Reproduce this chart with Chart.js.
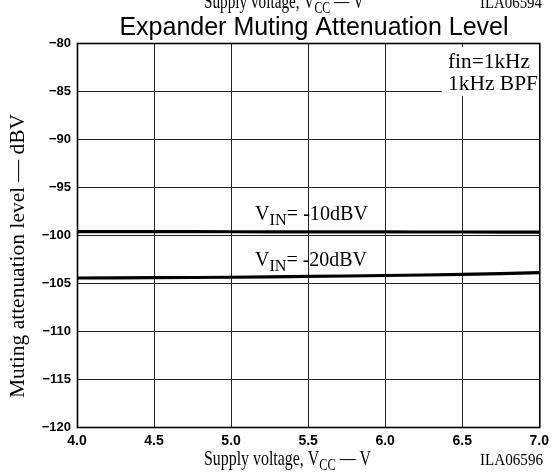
<!DOCTYPE html>
<html>
<head>
<meta charset="utf-8">
<script src="https://cdn.jsdelivr.net/npm/chart.js@4.4.1/dist/chart.umd.min.js"></script>
<style>
  html, body { margin: 0; padding: 0; background: #fff; }
  #wrap { width: 555px; height: 472px; position: relative; }
</style>
</head>
<body>
<div id="wrap"><canvas id="c" width="555" height="472"></canvas></div>
<script>
// ---- data ----
const supplyVoltage = [4.0, 4.5, 5.0, 5.5, 6.0, 6.5, 7.0];
const level_m10dBV = [-99.64, -99.65, -99.66, -99.67, -99.68, -99.69, -99.70];
const level_m20dBV = [-104.48, -104.45, -104.40, -104.32, -104.22, -104.10, -103.92];
const xTickValues = [4.0, 4.5, 5.0, 5.5, 6.0, 6.5, 7.0];
const yTickValues = [-80, -85, -90, -95, -100, -105, -110, -115, -120];
const chartTitle = 'Expander Muting Attenuation Level';
const xTitle = [['Supply voltage, V', 0], ['CC', 1], [' \u2014 V', 0]];
const yTitle = 'Muting attenuation level \u2014 dBV';
const figCode = 'ILA06596';
const prevFigCode = 'ILA06594';
const condLines = ['fin=1kHz', '1kHz BPF'];
const seriesLabels = [
  [['V', 0], ['IN', 1], ['= -10dBV', 0]],
  [['V', 0], ['IN', 1], ['= -20dBV', 0]]
];

const SERIF = '"Liberation Serif", "Times New Roman", serif';
const SANS = '"Liberation Sans", Arial, sans-serif';

function richWidth(ctx, segs, size, subSize) {
  let w = 0;
  for (const [t, sub] of segs) {
    ctx.font = (sub ? subSize : size) + 'px ' + SERIF;
    w += ctx.measureText(t).width;
  }
  return w;
}
// draw segments (with subscripts) starting at x (left), baseline y, scaled to target width
function drawRich(ctx, segs, x, y, size, subSize, subDy, targetW, sy) {
  const w = richWidth(ctx, segs, size, subSize);
  const sx = targetW ? targetW / w : 1;
  ctx.save();
  ctx.translate(x, y);
  ctx.scale(sx, sy || 1);
  ctx.textAlign = 'left';
  ctx.textBaseline = 'alphabetic';
  let cx = 0;
  for (const [t, sub] of segs) {
    ctx.font = (sub ? subSize : size) + 'px ' + SERIF;
    ctx.fillText(t, cx, sub ? subDy : 0);
    cx += ctx.measureText(t).width;
  }
  ctx.restore();
}

const decor = {
  id: 'decor',
  beforeDatasetsDraw(chart) {
    const ctx = chart.ctx;
    // white box behind the test-condition note
    ctx.save();
    ctx.fillStyle = '#fff';
    ctx.fillRect(442, 47, 99, 49);
    ctx.restore();
  },
  afterDraw(chart) {
    const ctx = chart.ctx;
    const a = chart.chartArea;
    ctx.save();
    ctx.fillStyle = '#000';
    // plot frame
    ctx.strokeStyle = '#000';
    ctx.lineWidth = 1.6;
    ctx.strokeRect(a.left + 0.5, a.top + 0.5, a.right - a.left, a.bottom - a.top);

    // title
    ctx.font = '25px ' + SANS;
    ctx.textAlign = 'center';
    ctx.textBaseline = 'alphabetic';
    ctx.fillText(chartTitle, 314, 35);

    // cut-off caption of previous figure at the very top
    drawRich(ctx, xTitle, 204, 8, 22, 17, 5, 160);
    drawRich(ctx, [[prevFigCode, 0]], 480, 8, 16, 16, 0, 62);

    // x axis title + figure code
    drawRich(ctx, xTitle, 204, 465, 22, 17, 5, 167);
    drawRich(ctx, [[figCode, 0]], 480, 465, 16, 16, 0, 63);

    // y axis title (rotated)
    ctx.save();
    ctx.translate(24, 256);
    ctx.rotate(-Math.PI / 2);
    ctx.font = '22px ' + SERIF;
    const yw = ctx.measureText(yTitle).width;
    ctx.scale(284 / yw, 1);
    ctx.textAlign = 'center';
    ctx.fillText(yTitle, 0, 0);
    ctx.restore();

    // condition note
    drawRich(ctx, [[condLines[0], 0]], 448, 68, 21, 21, 0, 82);
    drawRich(ctx, [[condLines[1], 0]], 448, 90, 21, 21, 0, 90);

    // series labels
    drawRich(ctx, seriesLabels[0], 255, 220, 21, 17, 5, 113);
    drawRich(ctx, seriesLabels[1], 255, 266, 21, 17, 5, 112);
    ctx.restore();
  }
};

new Chart(document.getElementById('c'), {
  type: 'line',
  data: {
    datasets: [
      {
        label: 'VIN=-10dBV',
        data: supplyVoltage.map((v, i) => ({ x: v, y: level_m10dBV[i] })),
        borderColor: '#000', borderWidth: 3.2, pointRadius: 0, tension: 0.3, fill: false
      },
      {
        label: 'VIN=-20dBV',
        data: supplyVoltage.map((v, i) => ({ x: v, y: level_m20dBV[i] })),
        borderColor: '#000', borderWidth: 3.2, pointRadius: 0, tension: 0.3, fill: false
      }
    ]
  },
  options: {
    responsive: false,
    animation: false,
    devicePixelRatio: 1,
    layout: { padding: { top: 43, right: 13, left: 0, bottom: 0 } },
    plugins: { legend: { display: false }, title: { display: false }, tooltip: { enabled: false } },
    scales: {
      x: {
        type: 'linear',
        min: 4, max: 7,
        afterBuildTicks: s => { s.ticks = xTickValues.map(v => ({ value: v })); },
        afterFit: s => { s.height = 45; },
        grid: { color: '#222', lineWidth: 1, drawTicks: false },
        border: { display: false },
        ticks: {
          padding: 6,
          color: '#000',
          font: { family: SANS, size: 14, weight: 'bold' },
          maxRotation: 0,
          callback: v => v.toFixed(1)
        }
      },
      y: {
        type: 'linear',
        min: -120, max: -80,
        afterBuildTicks: s => { s.ticks = yTickValues.map(v => ({ value: v })); },
        afterFit: s => { s.width = 77; },
        grid: { color: '#222', lineWidth: 1, drawTicks: false },
        border: { display: false },
        ticks: {
          padding: 6,
          color: '#000',
          font: { family: SANS, size: 13, weight: 'bold' },
          callback: v => (v < 0 ? '\u2212' : '') + Math.abs(v)
        }
      }
    }
  },
  plugins: [decor]
});
</script>
</body>
</html>
